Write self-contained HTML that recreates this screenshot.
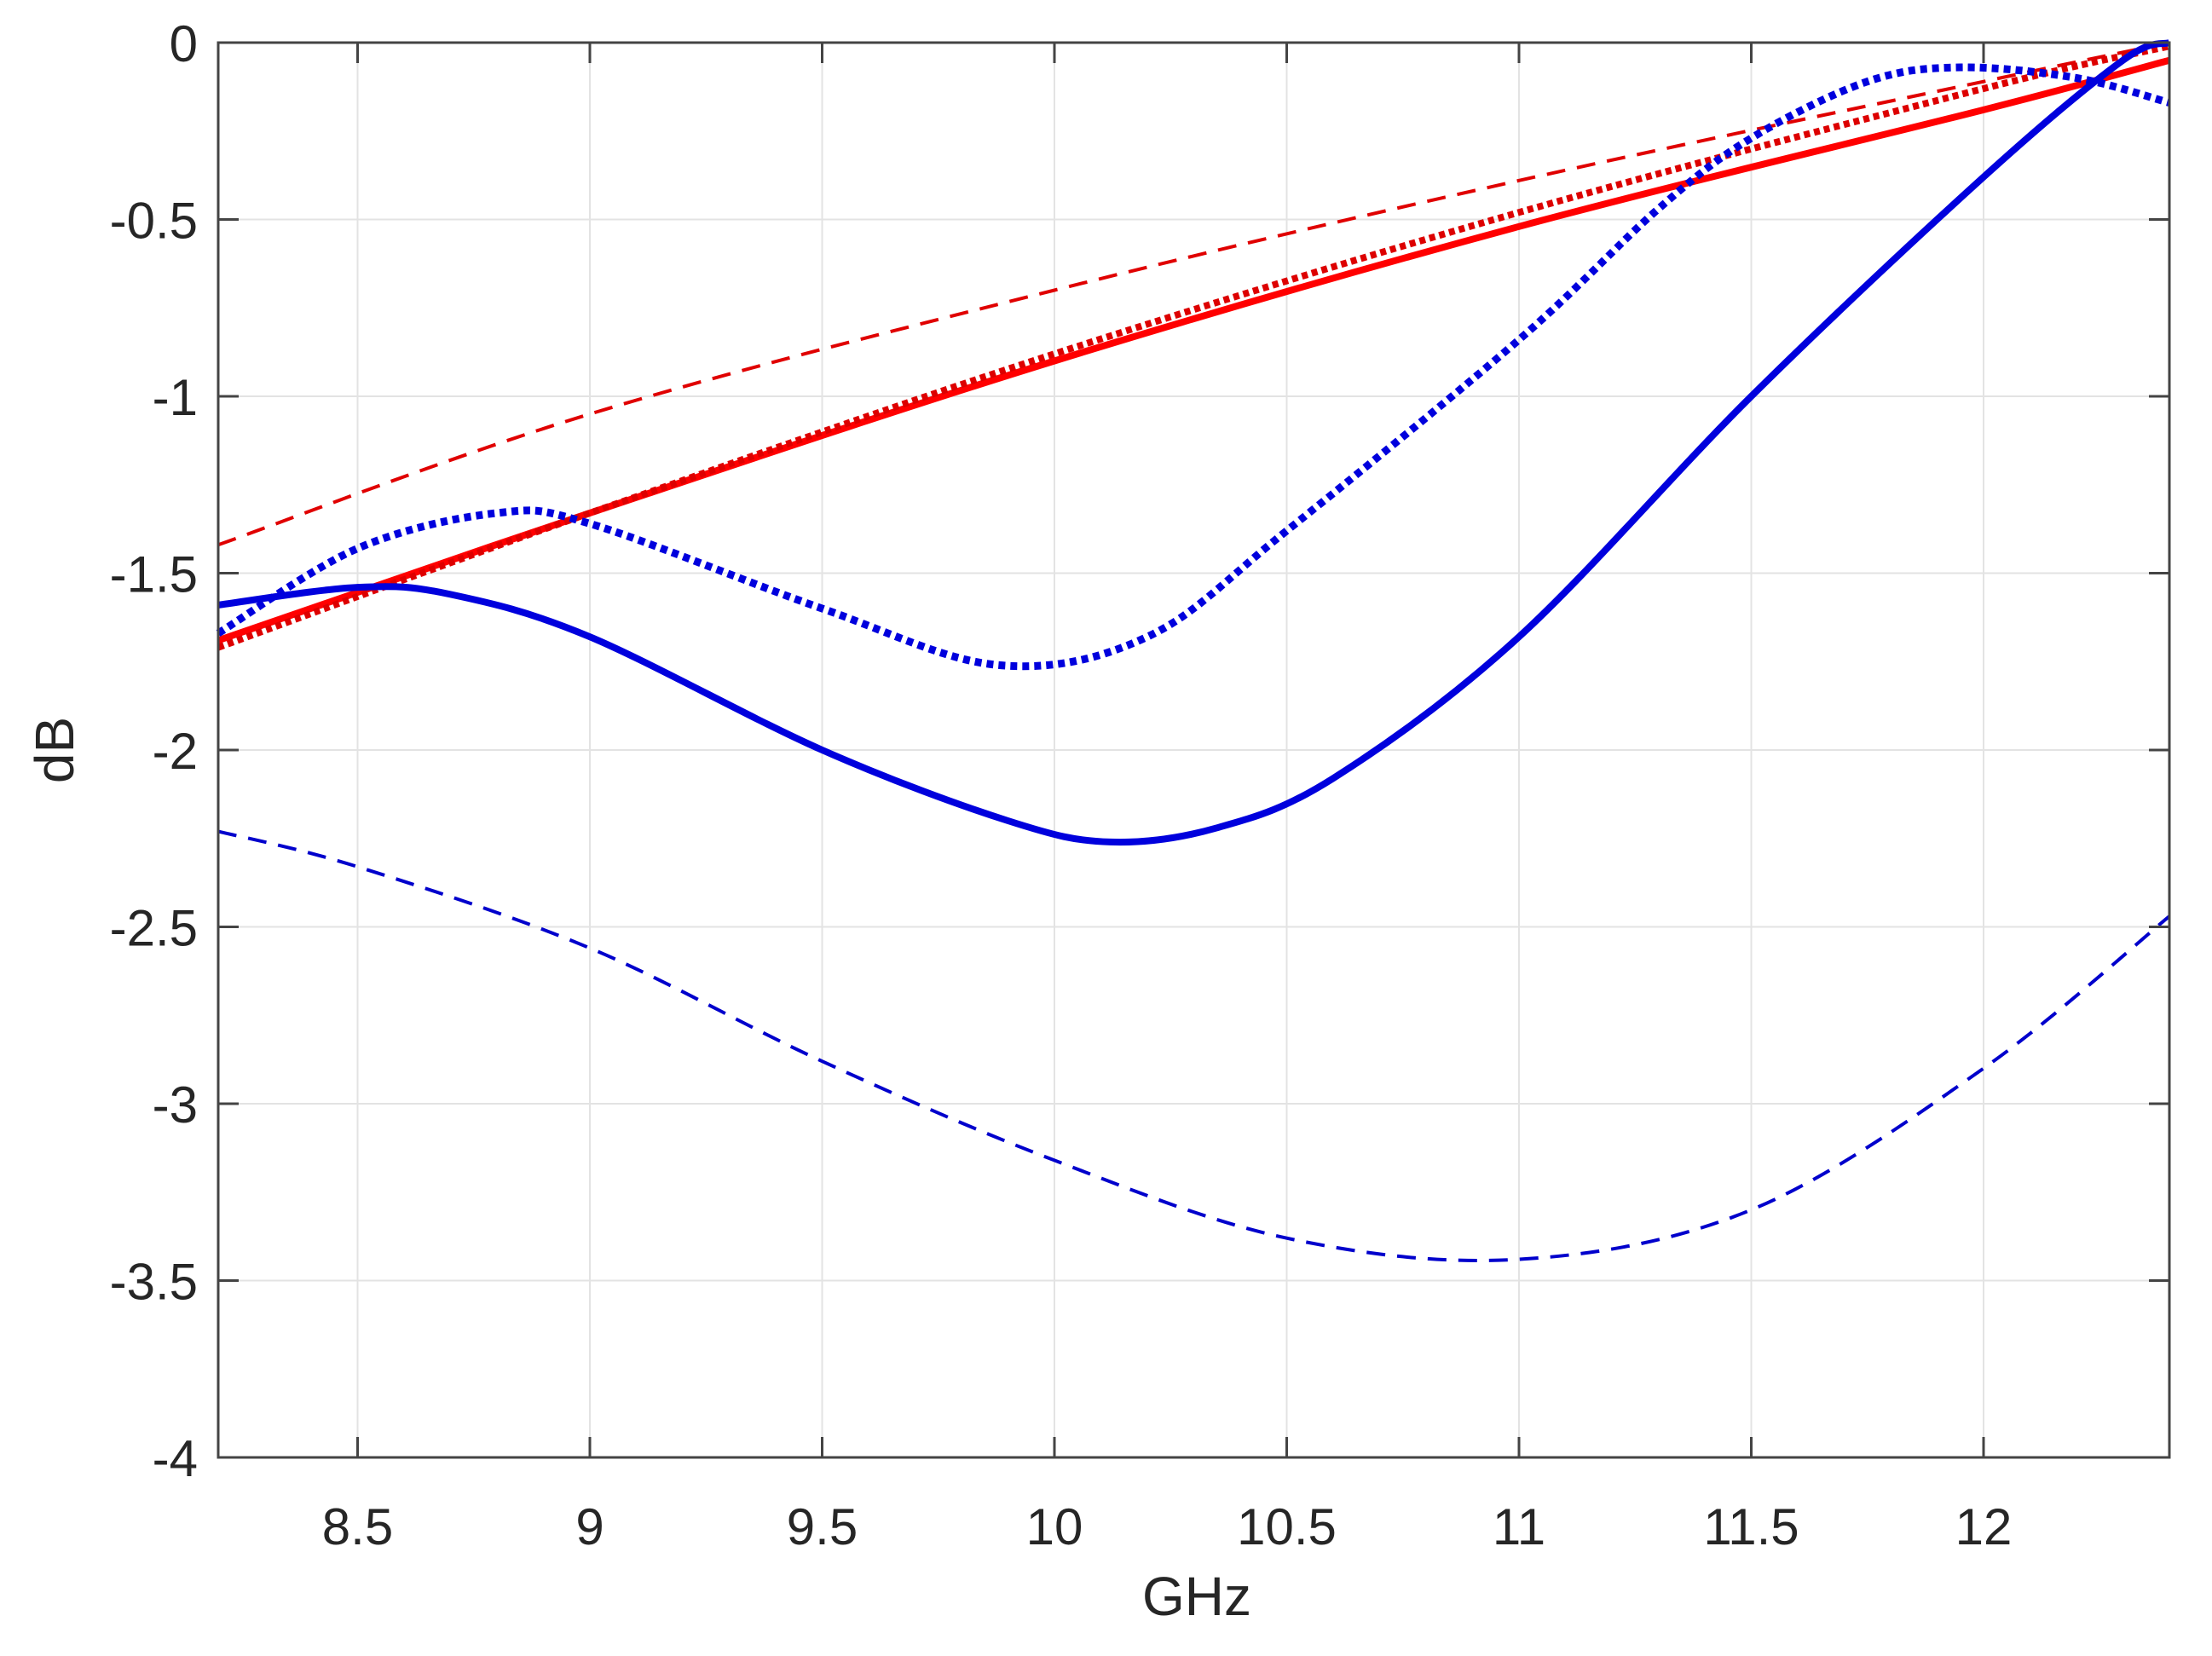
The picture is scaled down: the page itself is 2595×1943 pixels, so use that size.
<!DOCTYPE html>
<html><head><meta charset="utf-8"><style>
body{margin:0;background:#fff}
svg{display:block}
text{font-family:"Liberation Sans",Arial,sans-serif;fill:#262626}
</style></head><body>
<svg id="chart" width="2595" height="1943" viewBox="0 0 2595 1943" xmlns="http://www.w3.org/2000/svg">
<g id="grid"></g>
<g id="series"></g>
<rect x="256" y="50" width="2289" height="1660" fill="none" stroke="#444" stroke-width="3"/>
<g id="ticks"></g>
<text x="1404" y="1895" font-size="64" text-anchor="middle">GHz</text>
<text x="0" y="0" font-size="64" text-anchor="middle" transform="translate(86,880) rotate(-90)">dB</text>
</svg>
<script>
const xTicks=[8.5,9,9.5,10,10.5,11,11.5,12];
const xTickLabels=["8.5","9","9.5","10","10.5","11","11.5","12"];
const yTicks=[0,-0.5,-1,-1.5,-2,-2.5,-3,-3.5,-4];
const yTickLabels=["0","-0.5","-1","-1.5","-2","-2.5","-3","-3.5","-4"];
const blueSolidX=[8.2,8.5,8.7,9,9.5,9.9,10.12,10.35,10.6,11,11.5,12,12.3,12.4];
const blueSolidY=[-1.59,-1.54,-1.56,-1.68,-2.0,-2.2,-2.26,-2.22,-2.08,-1.68,-1.0,-0.38,-0.05,0];
const blueDotX=[8.2,8.5,8.8,9,9.5,9.88,10.2,10.5,11,11.3,11.5,11.75,11.95,12.2,12.4];
const blueDotY=[-1.67,-1.43,-1.33,-1.36,-1.6,-1.76,-1.68,-1.38,-0.84,-0.47,-0.27,-0.11,-0.07,-0.1,-0.17];
const blueDashX=[8.2,8.5,9,9.5,10,10.5,11,11.5,12,12.4];
const blueDashY=[-2.23,-2.33,-2.56,-2.88,-3.16,-3.38,-3.44,-3.3,-2.9,-2.47];
const redSolidX=[8.2,9,10,11,12,12.4];
const redSolidY=[-1.69,-1.33,-0.9,-0.52,-0.19,-0.05];
const redDotX=[8.2,9,10,11,12,12.4];
const redDotY=[-1.71,-1.33,-0.88,-0.48,-0.13,-0.01];
const redDashX=[8.2,9,10,11,12,12.4];
const redDashY=[-1.42,-1.05,-0.7,-0.39,-0.11,0];
const X0=256,X1=2545,Y0=50,Y1=1710,xmin=8.2,xmax=12.4,ymin=-4,ymax=0;
const sx=v=>X0+(v-xmin)/(xmax-xmin)*(X1-X0);
const sy=v=>Y1-(v-ymin)/(ymax-ymin)*(Y1-Y0);
const NS="http://www.w3.org/2000/svg";
function mk(t,a,p){const e=document.createElementNS(NS,t);for(const k in a)e.setAttribute(k,a[k]);p.appendChild(e);return e;}
const grid=document.getElementById('grid'),ticks=document.getElementById('ticks'),ser=document.getElementById('series');
xTicks.forEach((v,i)=>{
 const l=mk('line',{x1:sx(v),x2:sx(v),y1:Y0,y2:Y1,stroke:'#e3e3e3','stroke-width':2},grid);
 
 
 const t1=mk('line',{x1:sx(v),x2:sx(v),y1:Y1,y2:Y1-24,stroke:'#444','stroke-width':3},ticks);
 
 
 const t2=mk('line',{x1:sx(v),x2:sx(v),y1:Y0,y2:Y0+24,stroke:'#444','stroke-width':3},ticks);
 
 
 const tx=mk('text',{x:sx(v),y:1812,'font-size':60,'text-anchor':'middle'},ticks);tx.textContent=xTickLabels[i];
 
 
});
yTicks.forEach((v,i)=>{
 const l=mk('line',{x1:X0,x2:X1,y1:sy(v),y2:sy(v),stroke:'#e3e3e3','stroke-width':2},grid);
 
 
 const t1=mk('line',{x1:X0,x2:X0+24,y1:sy(v),y2:sy(v),stroke:'#444','stroke-width':3},ticks);
 
 
 const t2=mk('line',{x1:X1,x2:X1-24,y1:sy(v),y2:sy(v),stroke:'#444','stroke-width':3},ticks);
 
 
 const tx=mk('text',{x:232,y:sy(v)+22,'font-size':60,'text-anchor':'end'},ticks);tx.textContent=yTickLabels[i];
 
 
});
function path(xs,ys){
 const p=xs.map((x,i)=>[sx(x),sy(ys[i])]);let d='M'+p[0][0]+','+p[0][1];
 for(let i=0;i<p.length-1;i++){const a=p[i-1]||p[i],b=p[i],c=p[i+1],e=p[i+2]||c;
  d+=' C'+(b[0]+(c[0]-a[0])/6)+','+(b[1]+(c[1]-a[1])/6)+' '+(c[0]-(e[0]-b[0])/6)+','+(c[1]-(e[1]-b[1])/6)+' '+c[0]+','+c[1];}
 return d;}
function draw(xs,ys,col,w,dash,name){
 const a={d:path(xs,ys),fill:'none',stroke:col,'stroke-width':w,'stroke-linejoin':'round'};
 if(dash)a['stroke-dasharray']=dash;
 const e=mk('path',a,ser);
 
 
}
draw(blueDashX,blueDashY,'#0000cc',4,'22,14','blue-dashed-line');
draw(redDashX,redDashY,'#e00000',4,'22,14','red-dashed-line');
draw(redSolidX,redSolidY,'#ff0000',8,null,'red-solid-line');
draw(redDotX,redDotY,'#dd0000',8,'7,5','red-dotted-line');
draw(blueSolidX,blueSolidY,'#0000dd',8,null,'blue-solid-line');
draw(blueDotX,blueDotY,'#0000dd',9,'8,6','blue-dotted-line');
</script>
</body></html>
